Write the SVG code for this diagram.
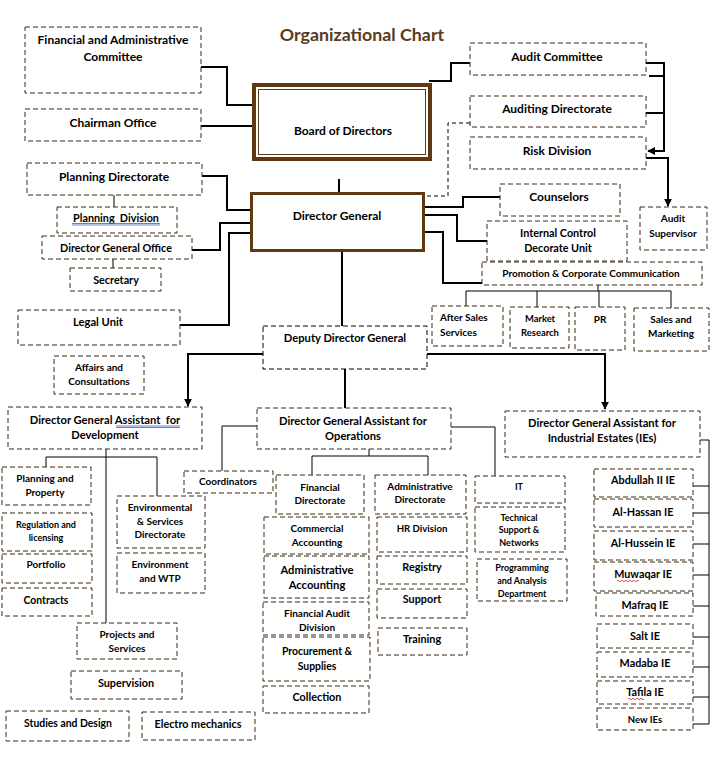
<svg xmlns="http://www.w3.org/2000/svg" width="722" height="772" viewBox="0 0 722 772">
<style>
.n{fill:#fff;stroke:#3f2810;stroke-width:1;stroke-dasharray:5 3}
.k{stroke:#000}
.t{font-family:Lato,"Open Sans",sans-serif;font-weight:bold;font-size:12px;text-anchor:middle;fill:#000}
.a{font-size:11.2px}.b{font-size:10.8px}.e{font-size:10.4px}.g{font-size:10px}.h{font-size:9.4px}
.c{fill:none;stroke:#000;stroke-width:2}
.c1{fill:none;stroke:#000;stroke-width:1}
.d{fill:none;stroke:#000;stroke-width:1;stroke-dasharray:4 3}
</style>
<defs>
<marker id="ar" viewBox="0 0 10 10" refX="9" refY="5" markerWidth="4" markerHeight="4" orient="auto"><path d="M0,0 L10,5 L0,10 z" fill="#000"/></marker>
</defs>
<rect width="722" height="772" fill="#fff"/>
<text x="362" y="41" style="font-family:Lato,'Open Sans',sans-serif;font-weight:bold;font-size:17.8px;text-anchor:middle;fill:#5a3a1a">Organizational Chart</text>

<g id="connectors">
<path class="c" d="M201,67 H227 V105 H252"/>
<path class="c" d="M199,126 H252"/>
<path class="c" d="M429,81 H451 V63 H470"/>
<path class="d" d="M470,123 H448 V196 H425"/>
<path class="c" d="M339,179 V192"/>
<path class="c" d="M202,176 H227 V210 H250"/>
<path class="c" d="M192,250 H220 V223 H250"/>
<path class="c" d="M180,325 H229 V233 H250"/>
<path class="c" d="M425,207 H463 V197 H500"/>
<path class="c" d="M425,215 H457 V241 H487"/>
<path class="c" d="M425,232 H443 V283 H482"/>
<path class="c" d="M646,63 H664 V151 H648" marker-end="url(#ar)"/>
<path class="c" d="M649,76 H664 M646,113 H664"/>
<path class="c" d="M646,158 H668 V206" marker-end="url(#ar)"/>
<path class="c" d="M342,252 V326"/>
<path class="c" d="M345,369 V408"/>
<path class="c" d="M263,354 H188 V406" marker-end="url(#ar)"/>
<path class="c" d="M427,354 H605 V409" marker-end="url(#ar)"/>
<path class="c1" d="M598,285 V291 M466,306 V291 H671 V308 M537,291 V307 M599,291 V307"/>
<path class="c1" d="M106,449 V623 M46,467 V457 H157 V496"/>
<path class="c1" d="M257,426 H222 V471"/>
<path class="c1" d="M369,449 V456 M312,475 V456 H428 V475"/>
<path class="c1" d="M451,427 H495 V476"/>
<path class="c1" d="M700,440 H709 V724 M693,486 H709 M693,513 H709 M693,544 H709 M693,575 H709 M693,606 H709 M693,637 H709 M693,667 H709 M693,697 H709 M693,724 H709"/>
<path class="c1" d="M114,195 V207 M113,259 V268"/>
</g>

<g id="fac"><rect class="n" x="25" y="27" width="176" height="66"/><text class="t" x="113" y="44">Financial and Administrative</text><text class="t" x="113" y="61">Committee</text></g>
<g id="chairman"><rect class="n" x="25" y="109" width="176" height="32"/><text class="t" x="113" y="127">Chairman Office</text></g>
<g id="board"><rect x="254" y="85" width="176" height="74" fill="#fff" stroke="#603913" stroke-width="4"/><rect x="258.5" y="89.5" width="167" height="65" fill="none" stroke="#603913" stroke-width="1"/><text class="t" x="343" y="135">Board of Directors</text></g>
<g id="planning-dir"><rect class="n" x="27" y="163" width="175" height="32"/><text class="t" x="114" y="181">Planning Directorate</text></g>
<g id="planning-div"><rect class="n" x="57" y="207" width="120" height="26"/><text class="t b" x="116" y="221.5" xml:space="preserve">Planning  Division</text><path d="M72,223.5 H160 M72,225 H160" stroke="#3a5fcd" stroke-width="0.8" fill="none"/></g>
<g id="dg-office"><rect class="n" x="42" y="236" width="150" height="23"/><text class="t b" x="116" y="252">Director General Office</text></g>
<g id="secretary"><rect class="n" x="70" y="268" width="91" height="23"/><text class="t b" x="116" y="284">Secretary</text></g>
<g id="legal"><rect class="n" x="18" y="310" width="162" height="35"/><text class="t a" x="98" y="326">Legal Unit</text></g>
<g id="affairs"><rect class="n" x="54" y="356" width="90" height="38"/><text class="t g" x="99" y="371">Affairs and</text><text class="t g" x="99" y="385">Consultations</text></g>
<g id="dg"><rect x="251.5" y="193.5" width="172" height="57" fill="#fff" stroke="#603913" stroke-width="3"/><text class="t" x="337" y="220">Director General</text></g>

<g id="audit-committee"><rect class="n" x="470" y="43" width="176" height="32"/><text class="t" x="557" y="61">Audit Committee</text></g>
<g id="auditing-dir"><rect class="n" x="470" y="96" width="176" height="31"/><text class="t" x="557" y="113">Auditing Directorate</text></g>
<g id="risk"><rect class="n" x="470" y="137" width="176" height="32"/><text class="t" x="557" y="155">Risk Division</text></g>
<g id="counselors"><rect class="n" x="500" y="184" width="120" height="32"/><text class="t" x="559" y="201">Counselors</text></g>
<g id="internal-control"><rect class="n" x="487" y="221" width="140" height="40"/><text class="t b" x="558" y="237">Internal Control</text><text class="t b" x="558" y="252">Decorate Unit</text></g>
<g id="audit-supervisor"><rect class="n" x="640" y="207" width="67" height="43"/><text class="t g" x="673" y="222">Audit</text><text class="t g" x="673" y="237">Supervisor</text></g>
<g id="promotion"><rect class="n" x="482" y="262" width="220" height="23"/><text class="t g" x="591" y="277">Promotion &amp; Corporate Communication</text></g>
<g id="after-sales"><rect class="n" x="432" y="306" width="71" height="40"/><text class="t g" x="440" y="321" style="text-anchor:start">After Sales</text><text class="t g" x="440" y="336" style="text-anchor:start">Services</text></g>
<g id="market"><rect class="n" x="510" y="307" width="59" height="41"/><text class="t h" x="540" y="322">Market</text><text class="t h" x="540" y="336">Research</text></g>
<g id="pr"><rect class="n" x="575" y="307" width="50" height="43"/><text class="t g" x="600" y="323">PR</text></g>
<g id="sales"><rect class="n" x="634" y="308" width="75" height="43"/><text class="t g" x="671" y="323">Sales and</text><text class="t g" x="671" y="337">Marketing</text></g>

<g id="ddg"><rect class="n k" x="263" y="326" width="164" height="43"/><text class="t a" x="345" y="342">Deputy Director General</text></g>

<g id="dga-dev"><rect class="n" x="8" y="407" width="194" height="42"/><text class="t a" x="105" y="424" xml:space="preserve">Director General Assistant  for</text><text class="t a" x="105" y="439">Development</text><path d="M116,426 H180 M116,427.5 H180" stroke="#3a5fcd" stroke-width="0.8" fill="none"/></g>
<g id="dga-ops"><rect class="n" x="257" y="408" width="194" height="41"/><text class="t a" x="353" y="425">Director General Assistant for</text><text class="t a" x="353" y="440">Operations</text></g>
<g id="dga-ie"><rect class="n" x="505" y="411" width="195" height="46"/><text class="t a" x="602" y="427">Director General Assistant for</text><text class="t a" x="602" y="442">Industrial Estates (IEs)</text></g>

<g id="planning-property"><rect class="n" x="2" y="467" width="89" height="38"/><text class="t g" x="45" y="482">Planning and</text><text class="t g" x="45" y="496">Property</text></g>
<g id="regulation"><rect class="n" x="2" y="513" width="90" height="38"/><text class="t" style="font-size:9px" x="46" y="527.5">Regulation and</text><text class="t" style="font-size:9px" x="46" y="540.5">licensing</text></g>
<g id="portfolio"><rect class="n" x="2" y="554" width="90" height="29"/><text class="t g" x="46" y="568">Portfolio</text></g>
<g id="contracts"><rect class="n" x="2" y="588" width="90" height="28"/><text class="t e" x="46" y="604">Contracts</text></g>
<g id="env-services"><rect class="n" x="117" y="496" width="88" height="52"/><text class="t g" x="160" y="511">Environmental</text><text class="t g" x="160" y="525">&amp; Services</text><text class="t g" x="160" y="538">Directorate</text></g>
<g id="env-wtp"><rect class="n" x="117" y="553" width="88" height="40"/><text class="t g" x="160" y="568">Environment</text><text class="t g" x="160" y="582">and WTP</text></g>
<g id="projects"><rect class="n" x="77" y="623" width="100" height="36"/><text class="t g" x="127" y="638">Projects and</text><text class="t g" x="127" y="652">Services</text></g>
<g id="supervision"><rect class="n" x="71" y="671" width="111" height="28"/><text class="t b" x="126" y="687">Supervision</text></g>
<g id="studies"><rect class="n" x="6" y="711" width="123" height="30"/><text class="t e" x="68" y="727">Studies and Design</text></g>
<g id="electro"><rect class="n" x="142" y="712" width="113" height="28"/><text class="t b" x="198" y="728">Electro mechanics</text></g>

<g id="coordinators"><rect class="n" x="184" y="471" width="89" height="22"/><text class="t g" x="228" y="485">Coordinators</text></g>
<g id="fin-dir"><rect class="n" x="276" y="475" width="88" height="39"/><text class="t g" x="320" y="491">Financial</text><text class="t g" x="320" y="504">Directorate</text></g>
<g id="commercial"><rect class="n" x="264" y="517" width="105" height="37"/><text class="t g" x="317" y="532">Commercial</text><text class="t g" x="317" y="546">Accounting</text></g>
<g id="admin-acc"><rect class="n" x="264" y="556" width="105" height="42"/><text class="t a" x="317" y="573.5">Administrative</text><text class="t a" x="317" y="588.5">Accounting</text></g>
<g id="fin-audit"><rect class="n" x="263" y="602" width="106" height="33"/><text class="t g" x="317" y="617">Financial Audit</text><text class="t g" x="317" y="631">Division</text></g>
<g id="procurement"><rect class="n" x="263" y="637" width="107" height="44"/><text class="t e" x="317" y="654.5">Procurement &amp;</text><text class="t e" x="317" y="669.5">Supplies</text></g>
<g id="collection"><rect class="n" x="263" y="686" width="106" height="27"/><text class="t b" x="317" y="701">Collection</text></g>
<g id="admin-dir"><rect class="n" x="375" y="475" width="91" height="39"/><text class="t g" x="420" y="490">Administrative</text><text class="t g" x="420" y="503">Directorate</text></g>
<g id="hr"><rect class="n" x="377" y="517" width="90" height="35"/><text class="t" style="font-size:9.6px" x="422" y="531.5">HR Division</text></g>
<g id="registry"><rect class="n" x="377" y="556" width="90" height="28"/><text class="t b" x="422" y="571">Registry</text></g>
<g id="support"><rect class="n" x="377" y="589" width="90" height="29"/><text class="t b" x="422" y="603">Support</text></g>
<g id="training"><rect class="n" x="378" y="628" width="89" height="27"/><text class="t b" x="422" y="643">Training</text></g>
<g id="it"><rect class="n" x="475" y="476" width="90" height="27"/><text class="t" x="519" y="490" style="font-size:9px">IT</text></g>
<g id="tech-support"><rect class="n" x="475" y="507" width="90" height="45"/><text class="t" x="519" y="520.5" style="font-size:9px">Technical</text><text class="t" x="519" y="532.5" style="font-size:9px">Support &amp;</text><text class="t" x="519" y="545.5" style="font-size:9px">Networks</text></g>
<g id="programming"><rect class="n" x="477" y="559" width="90" height="42"/><text class="t" x="522" y="571" style="font-size:9px">Programming</text><text class="t" x="522" y="584" style="font-size:9px">and Analysis</text><text class="t" x="522" y="597" style="font-size:9px">Department</text></g>

<g id="abdullah"><rect class="n" x="594" y="469" width="99" height="28"/><text class="t b" x="643" y="484">Abdullah II IE</text></g>
<g id="hassan"><rect class="n" x="594" y="499" width="99" height="28"/><text class="t b" x="643" y="516">Al-Hassan IE</text></g>
<g id="hussein"><rect class="n" x="594" y="531" width="99" height="29"/><text class="t b" x="643" y="547">Al-Hussein IE</text></g>
<g id="muwaqar"><rect class="n" x="594" y="562" width="99" height="29"/><text class="t b" x="643" y="578">Muwaqar IE</text></g>
<g id="mafraq"><rect class="n" x="596" y="593" width="97" height="23"/><text class="t b" x="645" y="609">Mafraq IE</text></g>
<g id="salt"><rect class="n" x="597" y="624" width="96" height="24"/><text class="t b" x="645" y="640">Salt IE</text></g>
<g id="madaba"><rect class="n" x="597" y="652" width="96" height="25"/><text class="t b" x="645" y="667">Madaba IE</text></g>
<g id="tafila"><rect class="n" x="597" y="681" width="96" height="23"/><text class="t b" x="645" y="696">Tafila IE</text></g>
<g id="new-ies"><rect class="n" x="597" y="708" width="96" height="22"/><text class="t" style="font-size:9.5px" x="645" y="722.5">New IEs</text></g>
<path d="M617,581 q1,-1.5 2,0 t2,0 t2,0 t2,0 t2,0 t2,0 t2,0 t2,0 t2,0 t2,0 t2,0 M628,699 q1,-1.5 2,0 t2,0 t2,0 t2,0 t2,0 t2,0 t2,0 t2,0" stroke="#e02020" stroke-width="0.8" fill="none"/>
</svg>
